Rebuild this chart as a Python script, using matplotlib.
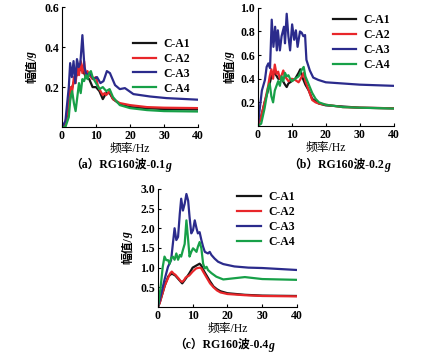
import matplotlib
matplotlib.use("Agg")
import matplotlib.pyplot as plt

plt.rcParams['font.family'] = ['Liberation Serif', 'Noto Sans CJK SC']
plt.rcParams['font.weight'] = 'bold'

labels = ["C-A1", "C-A2", "C-A3", "C-A4"]
colors = ["#151515", "#e8262a", "#2b2b8c", "#17a048"]

# panel (a): RG160 wave 0.1g
fa1 = [0, 1, 2, 3, 4, 5, 6, 6.5, 7, 8, 9, 10, 11, 12, 13, 14, 15, 17, 20, 25, 30, 40]
aa1 = [0, 0.02, 0.1, 0.2, 0.25, 0.28, 0.3, 0.27, 0.25, 0.24, 0.2, 0.2, 0.18, 0.14, 0.17, 0.17, 0.14, 0.115, 0.1, 0.095, 0.09, 0.088]
fa2 = [0, 1, 2, 2.5, 3, 3.5, 4, 4.5, 5, 5.5, 6, 6.5, 7, 7.5, 8, 9, 10, 10.5, 11, 12, 12.5, 13, 14, 15, 17, 20, 25, 30, 40]
aa2 = [0, 0.02, 0.12, 0.2, 0.18, 0.25, 0.22, 0.3, 0.26, 0.33, 0.27, 0.33, 0.25, 0.28, 0.26, 0.24, 0.25, 0.21, 0.19, 0.16, 0.17, 0.16, 0.18, 0.14, 0.12, 0.11, 0.1, 0.097, 0.095]
fa3 = [0, 1, 2, 2.4, 2.9, 3.4, 3.9, 4.4, 4.9, 5.4, 6.0, 6.6, 7.2, 8.2, 9.3, 10.3, 11.3, 12.2, 13.2, 14.1, 15.6, 17, 18.5, 21, 25.9, 30.7, 40]
aa3 = [0, 0.03, 0.2, 0.32, 0.25, 0.33, 0.22, 0.34, 0.3, 0.32, 0.46, 0.3, 0.26, 0.27, 0.24, 0.25, 0.22, 0.23, 0.28, 0.27, 0.21, 0.19, 0.195, 0.165, 0.153, 0.145, 0.137]
fa4 = [0, 1, 2, 2.5, 3, 3.5, 4, 4.5, 5, 5.5, 6, 6.5, 7, 7.5, 8, 8.5, 9, 10, 11, 12, 13, 14, 15, 17, 20, 25, 30, 40]
aa4 = [0, 0.0, 0.05, 0.15, 0.18, 0.12, 0.08, 0.15, 0.22, 0.17, 0.24, 0.23, 0.26, 0.24, 0.27, 0.28, 0.25, 0.22, 0.19, 0.2, 0.18, 0.19, 0.15, 0.11, 0.095, 0.085, 0.08, 0.078]

# panel (b): RG160 wave 0.2g
fb1 = [0, 1, 2, 3, 4, 5, 6, 7, 8, 8.5, 9, 10, 11, 12, 12.5, 13, 14, 15, 16, 17, 18, 20, 30, 40]
ab1 = [0, 0.08, 0.2, 0.3, 0.42, 0.45, 0.4, 0.4, 0.35, 0.33, 0.36, 0.38, 0.4, 0.45, 0.48, 0.42, 0.35, 0.3, 0.23, 0.21, 0.19, 0.175, 0.155, 0.15]
fb2 = [0, 1, 2, 3, 3.5, 4, 4.5, 5, 5.5, 6, 6.5, 7, 7.5, 8, 9, 10, 11, 12, 13, 13.5, 14, 15, 16, 17, 18, 20, 25, 30, 40]
ab2 = [0, 0.08, 0.2, 0.33, 0.42, 0.48, 0.4, 0.52, 0.44, 0.46, 0.4, 0.43, 0.47, 0.42, 0.38, 0.4, 0.39, 0.37, 0.42, 0.45, 0.38, 0.3, 0.22, 0.2, 0.19, 0.18, 0.16, 0.155, 0.15]
fb3 = [0, 1.2, 2.1, 2.6, 3.1, 3.6, 4.1, 4.6, 5.1, 5.6, 5.9, 6.5, 7.0, 7.7, 8.0, 8.5, 9.0, 9.5, 10.1, 10.7, 11.2, 11.7, 12.4, 12.9, 13.4, 13.9, 14.3, 15.3, 16.3, 17.8, 20, 30, 40]
ab3 = [0, 0.3, 0.39, 0.5, 0.53, 0.49, 0.9, 0.67, 0.84, 0.64, 0.81, 0.64, 0.76, 0.84, 0.7, 0.95, 0.76, 0.64, 0.86, 0.73, 0.81, 0.67, 0.8, 0.79, 0.76, 0.77, 0.56, 0.47, 0.41, 0.39, 0.37, 0.35, 0.34]
fb4 = [0, 1, 2, 3, 3.5, 4, 4.5, 5, 6, 6.5, 7, 7.5, 8, 8.5, 9, 9.5, 10, 11, 12, 13, 13.5, 14, 15, 16, 17, 18, 20, 25, 30, 40]
ab4 = [0, 0.02, 0.15, 0.32, 0.36, 0.25, 0.2, 0.3, 0.38, 0.34, 0.42, 0.38, 0.45, 0.42, 0.43, 0.4, 0.38, 0.4, 0.42, 0.48, 0.5, 0.42, 0.35, 0.28, 0.23, 0.2, 0.18, 0.16, 0.155, 0.148]

# panel (c): RG160 wave 0.4g
fc1 = [0, 0.5, 1, 2, 3, 4, 5, 6, 7, 8, 9, 10, 11, 12, 12.5, 13, 14, 15, 16, 17, 18, 20, 25, 30, 40]
ac1 = [0, 0.1, 0.25, 0.55, 0.78, 0.85, 0.8, 0.7, 0.6, 0.72, 0.85, 1.0, 1.05, 1.1, 1.05, 0.95, 0.8, 0.65, 0.52, 0.45, 0.4, 0.35, 0.31, 0.29, 0.28]
fc2 = [0, 0.5, 1, 2, 3, 3.5, 4, 4.5, 5, 6, 6.5, 7, 7.5, 8, 9, 10, 11, 12, 12.5, 13, 14, 15, 16, 17, 18, 20, 25, 30, 40]
ac2 = [0, 0.1, 0.25, 0.55, 0.75, 0.85, 0.9, 0.85, 0.82, 0.72, 0.66, 0.64, 0.68, 0.75, 0.8, 0.9, 0.98, 1.0, 0.98, 0.9, 0.75, 0.6, 0.5, 0.42, 0.37, 0.33, 0.3, 0.28, 0.27]
fc3 = [0, 1, 1.9, 2.9, 3.8, 4.3, 4.8, 5.3, 5.8, 6.3, 6.7, 7.2, 7.7, 8.2, 8.7, 9.1, 9.6, 10.1, 10.6, 11.1, 11.5, 12.0, 12.5, 13.0, 13.5, 14.4, 14.9, 15.4, 16.3, 17.3, 18.8, 22, 26, 30, 40]
ac3 = [0, 0.35, 0.69, 1.02, 1.19, 1.6, 2.0, 1.7, 1.78, 2.37, 2.75, 2.45, 2.62, 2.87, 2.7, 2.29, 1.87, 1.95, 2.2, 2.0, 1.87, 1.9, 1.7, 1.53, 1.4, 1.36, 1.4, 1.32, 1.23, 1.15, 1.09, 1.03, 1.0, 0.99, 0.94]
fc4 = [0, 0.7, 1.4, 1.9, 2.4, 2.9, 3.4, 3.8, 4.3, 4.8, 5.3, 5.8, 6.3, 6.7, 7.2, 7.7, 8.2, 8.7, 9.1, 9.6, 10.1, 10.6, 11.1, 11.5, 12.0, 12.5, 13.0, 13.5, 14.0, 14.4, 15.4, 16.8, 18.8, 25, 30, 40]
ac4 = [0, 0.44, 1.02, 1.28, 1.19, 1.19, 1.1, 1.24, 1.28, 1.2, 1.36, 1.2, 1.32, 1.28, 1.45, 1.6, 2.2, 1.7, 1.28, 1.4, 1.49, 1.45, 1.4, 1.53, 1.65, 1.49, 1.1, 0.98, 1.02, 0.94, 0.86, 0.77, 0.7, 0.76, 0.71, 0.69]

panels = [
    dict(rect=[0.139, 0.644, 0.305, 0.336], data=[(fa1, aa1), (fa2, aa2), (fa3, aa3), (fa4, aa4)],
         ylim=0.6, yticks=[0.2, 0.4, 0.6], ylab_x=0.072, cap_x=0.271, cap_y=0.538,
         cap="（a）RG160波-0.1", leg=(0.52, 0.745)),
    dict(rect=[0.578, 0.647, 0.305, 0.331], data=[(fb1, ab1), (fb2, ab2), (fb3, ab3), (fb4, ab4)],
         ylim=1.0, yticks=[0.2, 0.4, 0.6, 0.8, 1.0], ylab_x=0.516, cap_x=0.760, cap_y=0.538,
         cap="（b）RG160波-0.2", leg=(0.55, 0.945)),
    dict(rect=[0.354, 0.140, 0.312, 0.331], data=[(fc1, ac1), (fc2, ac2), (fc3, ac3), (fc4, ac4)],
         ylim=3.0, yticks=[0.5, 1.0, 1.5, 2.0, 2.5, 3.0], ylab_x=0.287, cap_x=0.502, cap_y=0.034,
         cap="（c）RG160波-0.4", leg=(0.57, 0.98)),
]

fig = plt.figure(figsize=(4.46, 3.57), dpi=100)
W, H = 446.0, 357.0


def text_with_g(x, y, s, size, vertical=False):
    # plain text followed by an italic g, centred as a whole at (x, y)
    rot = 90 if vertical else 0
    t = fig.text(x, y, s, fontsize=size, rotation=rot, ha='center', va='center')
    g = fig.text(x, y, "g", fontsize=size, rotation=rot, style='italic', ha='center', va='center')
    fig.canvas.draw()
    b1 = t.get_window_extent()
    b2 = g.get_window_extent()
    if vertical:
        total = b1.height + b2.height
        y0 = y * H - total / 2
        t.set_y((y0 + b1.height / 2) / H)
        g.set_y((y0 + b1.height + b2.height / 2 - 1) / H)
        g.set_x(x - 0.5 / W)
    else:
        total = b1.width + b2.width
        x0 = x * W - total / 2
        t.set_x((x0 + b1.width / 2) / W)
        g.set_x((x0 + b1.width + b2.width / 2) / W)
        g.set_y(y - 1.0 / H)


for p in panels:
    ax = fig.add_axes(p['rect'])
    for (x, y), lab, c in zip(p['data'], labels, colors):
        ax.plot(x, y, color=c, lw=1.6, label=lab)
    ax.set_xlim(0, 40)
    ax.set_ylim(0, p['ylim'])
    ax.set_xticks([0, 10, 20, 30, 40])
    ax.set_yticks(p['yticks'])
    ax.set_yticklabels([f"{v:.1f}" for v in p['yticks']])
    ax.spines['top'].set_visible(False)
    ax.spines['right'].set_visible(False)
    ax.tick_params(direction='in', length=2.5, labelsize=8.5, pad=2)
    ax.set_xlabel("频率/Hz", fontsize=8.5, labelpad=1)
    ax.legend(loc='upper left', bbox_to_anchor=p['leg'], frameon=False, fontsize=8.5,
              handlelength=2.0, handletextpad=0.6, labelspacing=0.25, borderpad=0, borderaxespad=0)
    r = p['rect']
    text_with_g(p['ylab_x'], r[1] + r[3] / 2, "幅值/", 8.5, vertical=True)
    text_with_g(p['cap_x'], p['cap_y'], p['cap'], 8.5)

fig.savefig("out.png", dpi=100)
